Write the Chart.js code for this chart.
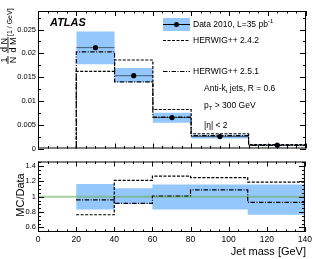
<!DOCTYPE html>
<html>
<head>
<meta charset="utf-8">
<script src="https://cdn.jsdelivr.net/npm/chart.js@4.4.1/dist/chart.umd.min.js"></script>
<style>
html, body { margin: 0; padding: 0; background: #fff; }
#wrap { position: relative; width: 315px; height: 259px; }
#wrap canvas { position: absolute; left: 0; }
</style>
</head>
<body>
<div id="wrap">
    <canvas id="mainChart" width="315" height="155" style="top:0"></canvas>
    <canvas id="ratioChart" width="315" height="104" style="top:155px"></canvas>
</div>
<script>
// jet mass bins [GeV]
var binEdges = [20, 40, 60, 80, 110, 140];
var binCentres = [30, 50, 70, 95, 125];

// 1/N dN/dM [1/GeV]
var dataValues = [0.0212, 0.0153, 0.0065, 0.0025, 0.0007];
var dataBandUp = [0.0246, 0.0169, 0.0075, 0.0029, 0.00081];
var dataBandDown = [0.0177, 0.0139, 0.0054, 0.0021, 0.00054];
var herwig242 = [0.0162, 0.0186, 0.0082, 0.0031, 0.00083];
var herwig251 = [0.0203, 0.0140, 0.0066, 0.0027, 0.00065];

// MC/Data
var ratioBandUp = [1.165, 1.11, 1.16, 1.16, 1.16];
var ratioBandDown = [0.835, 0.91, 0.835, 0.835, 0.765];
var ratio242 = [0.765, 1.214, 1.27, 1.25, 1.19];
var ratio251 = [0.959, 0.913, 1.01, 1.09, 0.926];

var mainTicks = [0, 0.005, 0.01, 0.015, 0.02, 0.025];
var mainTickLabels = ['0', '0.005', '0.01', '0.015', '0.02', '0.025'];
var ratioTicks = [0.6, 0.8, 1, 1.2, 1.4];
var ratioTickLabels = ['0.6', '0.8', '1', '1.2', '1.4'];
var massTicks = [0, 20, 40, 60, 80, 100, 120, 140];

var FONT = '"Liberation Sans", Arial, Helvetica, sans-serif';
var BAND = '#94c8fc';
var DASHED = [3, 1.5];
var DASHDOT = [4.5, 1.5, 1, 1.5];

function stepPoints(values, toZero) {
    var pts = [];
    if (toZero) pts.push({x: binEdges[0], y: 0});
    for (var i = 0; i < values.length; i++) {
        pts.push({x: binEdges[i], y: values[i]});
    }
    pts.push({x: binEdges[binEdges.length - 1], y: values[values.length - 1]});
    if (toZero) pts.push({x: binEdges[binEdges.length - 1], y: 0});
    return pts;
}

function binLines(values) {
    var pts = [];
    for (var i = 0; i < values.length; i++) {
        pts.push({x: binEdges[i], y: values[i]});
        pts.push({x: binEdges[i + 1], y: values[i]});
        pts.push({x: binEdges[i + 1], y: null});
    }
    return pts;
}

function centrePoints(values) {
    return values.map(function(v, i) { return {x: binCentres[i], y: v}; });
}

function histSet(values, dash, toZero, order) {
    return {
        data: stepPoints(values, toZero),
        stepped: 'before',
        borderColor: '#000',
        borderWidth: 1.2,
        borderDash: dash,
        pointRadius: 0,
        fill: false,
        order: order
    };
}

function bandSets(up, down) {
    return [
        {data: stepPoints(up, false), stepped: 'before', borderWidth: 0, borderColor: 'rgba(0,0,0,0)',
         backgroundColor: BAND, pointRadius: 0, fill: '+1', order: 10},
        {data: stepPoints(down, false), stepped: 'before', borderWidth: 0, borderColor: 'rgba(0,0,0,0)',
         pointRadius: 0, fill: false, order: 11}
    ];
}

// ROOT style frame with ticks pointing inwards on every side
function makeFrame(yStep, yEvery) {
    return {
        id: 'frame',
        afterDatasetsDraw: function(chart) {
            var ctx = chart.ctx, a = chart.chartArea;
            var xs = chart.scales.x, ys = chart.scales.y;
            ctx.save();
            ctx.strokeStyle = '#000';
            ctx.lineWidth = 1;
            ctx.setLineDash([]);
            ctx.strokeRect(a.left + 0.5, a.top + 0.5, a.right - a.left - 1, a.bottom - a.top - 1);
            ctx.beginPath();
            for (var v = 0; v <= 140; v += 5) {
                var px = Math.round(xs.getPixelForValue(v)) + 0.5;
                var len = v % 20 === 0 ? 5 : 2.5;
                ctx.moveTo(px, a.bottom); ctx.lineTo(px, a.bottom - len);
                ctx.moveTo(px, a.top); ctx.lineTo(px, a.top + len);
            }
            var k0 = Math.ceil(ys.min / yStep - 1e-6), k1 = Math.floor(ys.max / yStep + 1e-6);
            for (var k = k0; k <= k1; k++) {
                var py = Math.round(ys.getPixelForValue(k * yStep)) + 0.5;
                var l = k % yEvery === 0 ? 6 : 3;
                ctx.moveTo(a.left, py); ctx.lineTo(a.left + l, py);
                ctx.moveTo(a.right, py); ctx.lineTo(a.right - l, py);
            }
            ctx.stroke();
            ctx.restore();
        }
    };
}

function richText(ctx, parts, x, y, size) {
    parts.forEach(function(p) {
        var s = p[1] === 'n' ? size : size * 0.7;
        var dy = p[1] === 'sup' ? -size * 0.4 : (p[1] === 'sub' ? size * 0.3 : 0);
        ctx.font = s + 'px ' + FONT;
        ctx.fillText(p[0], x, y + dy);
        x += ctx.measureText(p[0]).width;
    });
}

var mainText = {
    id: 'mainText',
    afterDraw: function(chart) {
        var ctx = chart.ctx;
        ctx.save();
        ctx.fillStyle = '#000';
        ctx.textBaseline = 'middle';
        ctx.textAlign = 'left';
        ctx.font = 'italic bold 11px ' + FONT;
        ctx.fillText('ATLAS', 50, 23);

        // legend
        ctx.fillStyle = BAND;
        ctx.fillRect(163, 18, 27, 13);
        ctx.strokeStyle = '#000';
        ctx.lineWidth = 1;
        ctx.beginPath(); ctx.moveTo(163, 24.5); ctx.lineTo(190, 24.5); ctx.stroke();
        ctx.fillStyle = '#000';
        ctx.beginPath(); ctx.arc(176.5, 24.5, 2.5, 0, Math.PI * 2); ctx.fill();
        ctx.lineWidth = 1.2;
        ctx.setLineDash(DASHED);
        ctx.beginPath(); ctx.moveTo(163, 40.5); ctx.lineTo(190, 40.5); ctx.stroke();
        ctx.setLineDash(DASHDOT);
        ctx.beginPath(); ctx.moveTo(163, 71.5); ctx.lineTo(190, 71.5); ctx.stroke();
        ctx.setLineDash([]);
        richText(ctx, [['Data 2010, L=35 pb', 'n'], ['-1', 'sup']], 193, 24.5, 8.5);
        richText(ctx, [['HERWIG++ 2.4.2', 'n']], 193, 40.5, 8.5);
        richText(ctx, [['HERWIG++ 2.5.1', 'n']], 193, 71.5, 8.5);

        richText(ctx, [['Anti-k', 'n'], ['t', 'sub'], [' jets, R = 0.6', 'n']], 204, 89, 8.5);
        richText(ctx, [['p', 'n'], ['T', 'sub'], [' > 300 GeV', 'n']], 204, 106, 8.5);
        richText(ctx, [['|\u03b7| < 2', 'n']], 204, 126, 8.5);

        // y title: 1/N dN/dM [1/GeV]
        ctx.translate(8, 64);
        ctx.rotate(-Math.PI / 2);
        ctx.font = '9px ' + FONT;
        ctx.textAlign = 'center';
        ctx.textBaseline = 'alphabetic';
        ctx.fillText('1', 4, -1.5);
        ctx.fillText('d N', 19, -1.5);
        ctx.textBaseline = 'top';
        ctx.fillText('N', 4, 1.2);
        ctx.fillText('d M', 19, 1.2);
        ctx.fillRect(0, -0.5, 8, 0.9);
        ctx.fillRect(11, -0.5, 16, 0.9);
        ctx.font = '7px ' + FONT;
        ctx.textAlign = 'left';
        ctx.textBaseline = 'middle';
        ctx.fillText('[1 / GeV]', 28, 2.5);
        ctx.restore();
    }
};

var ratioText = {
    id: 'ratioText',
    afterDraw: function(chart) {
        var ctx = chart.ctx;
        ctx.save();
        ctx.fillStyle = '#000';
        ctx.font = '11px ' + FONT;
        ctx.textAlign = 'right';
        ctx.textBaseline = 'middle';
        ctx.fillText('Jet mass [GeV]', 306, 97);
        ctx.translate(21, 40);
        ctx.rotate(-Math.PI / 2);
        ctx.textAlign = 'center';
        ctx.fillText('MC/Data', 0, 0);
        ctx.restore();
    }
};

function tickFont(size) {
    return {family: FONT, size: size};
}

var mainChart = new Chart(document.getElementById('mainChart').getContext('2d'), {
    type: 'line',
    data: {
        datasets: bandSets(dataBandUp, dataBandDown).concat([
            histSet(herwig242, DASHED, true, 5),
            histSet(herwig251, DASHDOT, true, 4),
            {data: binLines(dataValues), borderColor: 'rgba(0,0,0,0.55)', borderWidth: 1,
             pointRadius: 0, spanGaps: false, fill: false, order: 2},
            {data: centrePoints(dataValues), showLine: false, pointRadius: 2.6,
             pointBackgroundColor: '#000', pointBorderWidth: 0, order: 1}
        ])
    },
    options: {
        responsive: false,
        animation: false,
        layout: {padding: {left: 0, right: 9, top: 11, bottom: 2.5}},
        plugins: {legend: {display: false}, tooltip: {enabled: false}},
        scales: {
            x: {type: 'linear', min: 0, max: 140, display: false},
            y: {
                min: 0, max: 0.0289,
                grid: {display: false, drawTicks: false},
                border: {display: false},
                afterBuildTicks: function(scale) {
                    scale.ticks = mainTicks.map(function(v) { return {value: v}; });
                },
                afterFit: function(scale) { scale.width = 38; },
                ticks: {
                    padding: 2, color: '#000', font: tickFont(7.5),
                    callback: function(v) { return mainTickLabels[mainTicks.indexOf(v)]; }
                }
            }
        }
    },
    plugins: [makeFrame(0.0025, 2), mainText]
});

var ratioChart = new Chart(document.getElementById('ratioChart').getContext('2d'), {
    type: 'line',
    data: {
        datasets: bandSets(ratioBandUp, ratioBandDown).concat([
            {data: [{x: 0, y: 1}, {x: 140, y: 1}], borderColor: 'rgba(105,175,95,0.6)',
             borderWidth: 2, pointRadius: 0, fill: false, order: 6},
            histSet(ratio242, DASHED, false, 5),
            histSet(ratio251, DASHDOT, false, 4)
        ])
    },
    options: {
        responsive: false,
        animation: false,
        layout: {padding: {left: 0, right: 9, top: 2.7, bottom: 0}},
        plugins: {legend: {display: false}, tooltip: {enabled: false}},
        scales: {
            x: {
                type: 'linear', min: 0, max: 140,
                grid: {display: false, drawTicks: false},
                border: {display: false},
                afterBuildTicks: function(scale) {
                    scale.ticks = massTicks.map(function(v) { return {value: v}; });
                },
                afterFit: function(scale) { scale.height = 27; },
                ticks: {padding: 3, color: '#000', font: tickFont(8.5), maxRotation: 0, autoSkip: false}
            },
            y: {
                min: 0.54, max: 1.46,
                grid: {display: false, drawTicks: false},
                border: {display: false},
                afterBuildTicks: function(scale) {
                    scale.ticks = ratioTicks.map(function(v) { return {value: v}; });
                },
                afterFit: function(scale) { scale.width = 38; },
                ticks: {
                    padding: 2, color: '#000', font: tickFont(7.5),
                    callback: function(v) { return ratioTickLabels[ratioTicks.indexOf(v)]; }
                }
            }
        }
    },
    plugins: [makeFrame(0.05, 4), ratioText]
});
</script>
</body>
</html>
